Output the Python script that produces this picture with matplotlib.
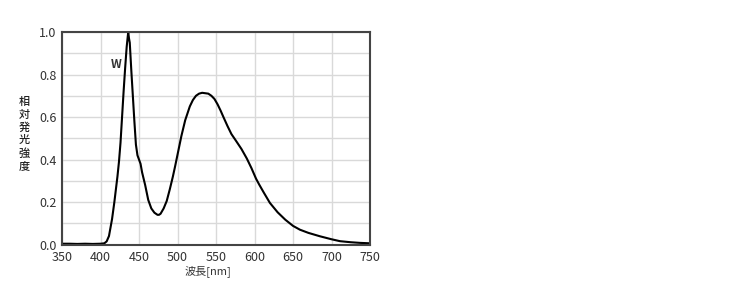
import numpy as np
import matplotlib.pyplot as plt
from matplotlib.ticker import MultipleLocator

plt.rcParams['font.family'] = ['Noto Sans CJK JP', 'DejaVu Sans']

# spectrum (wavelength nm, relative intensity)
wavelength = [350, 360, 370, 380, 390, 400, 405, 408, 411, 413, 415, 418, 420, 422,
              424, 426, 428, 430, 432, 434, 436, 437, 438, 440, 442, 444, 446, 448,
              450, 452, 454, 456, 458, 462, 466, 470, 474, 476, 478, 482, 486, 490,
              494, 497, 501, 505, 510, 516, 520, 524, 528, 532, 536, 540, 544, 548,
              552, 556, 560, 565, 570, 576, 583, 590, 596, 602, 606, 612, 620, 630,
              640, 650, 659, 670, 685, 700, 711, 725, 737, 750]
intensity = [0.004, 0.004, 0.003, 0.004, 0.003, 0.004, 0.006, 0.015, 0.04, 0.08, 0.12,
             0.20, 0.26, 0.32, 0.39, 0.48, 0.60, 0.72, 0.83, 0.93, 1.0, 0.97, 0.95,
             0.82, 0.70, 0.58, 0.47, 0.42, 0.40, 0.38, 0.34, 0.31, 0.28, 0.21, 0.17,
             0.15, 0.14, 0.14, 0.145, 0.17, 0.205, 0.26, 0.32, 0.37, 0.44, 0.51,
             0.585, 0.65, 0.68, 0.70, 0.71, 0.714, 0.712, 0.71, 0.70, 0.685, 0.66,
             0.63, 0.597, 0.557, 0.52, 0.488, 0.45, 0.405, 0.36, 0.31, 0.283, 0.245,
             0.196, 0.152, 0.117, 0.088, 0.07, 0.055, 0.039, 0.025, 0.016, 0.011,
             0.008, 0.006]

x_ticks = [350, 400, 450, 500, 550, 600, 650, 700, 750]
y_ticks = [0.0, 0.2, 0.4, 0.6, 0.8, 1.0]

fig = plt.figure(figsize=(7.3, 2.82), dpi=100)
ax = fig.add_axes([62/730, 1-245/282, 308/730, 213/282])

ax.plot(wavelength, intensity, color='black', lw=1.5)

ax.set_xlim(350, 750)
ax.set_ylim(-0.002, 1.0)
ax.set_xticks(x_ticks)
ax.set_yticks(y_ticks)
ax.set_yticklabels([f"{v:.1f}" for v in y_ticks])
ax.yaxis.set_minor_locator(MultipleLocator(0.1))
ax.grid(which='both', color='#d9d9d9', lw=1)
ax.set_axisbelow(True)
ax.tick_params(which='both', length=0, labelsize=9, colors='#333333', pad=4)

for s in ax.spines.values():
    s.set_color('#444444')
    s.set_linewidth(1.5)

ax.text(420, 0.845, 'W', fontsize=8.5, fontweight='bold', color='#333333',
        ha='center', va='center')

fig.text(208/730, 1-271/282, '波長[nm]', fontsize=8, color='#333333',
         ha='center', va='center')
fig.text(24/730, 1-134/282, '\n'.join('相対発光強度'), fontsize=8,
         fontweight='medium', color='#222222', ha='center', va='center',
         linespacing=1.3)

fig.savefig('out.png', dpi=100)
